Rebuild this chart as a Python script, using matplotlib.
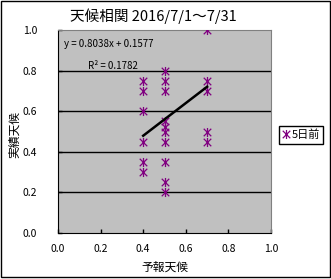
import numpy as np
import matplotlib.pyplot as plt
from matplotlib.path import Path
from matplotlib.patches import Rectangle

plt.rcParams['font.family'] = ['Noto Sans CJK JP', 'DejaVu Sans']

# forecast value -> observed values
x_vals = [0.4] * 6 + [0.5] * 10 + [0.7] * 5
y_vals = [0.75, 0.7, 0.6, 0.45, 0.35, 0.3,
          0.8, 0.75, 0.7, 0.55, 0.52, 0.5, 0.45, 0.35, 0.25, 0.2,
          1.0, 0.75, 0.7, 0.5, 0.45]

slope = 0.8038
intercept = 0.1577
r2 = 0.1782
trend_x = [0.4, 0.7]

ticks = [0.0, 0.2, 0.4, 0.6, 0.8, 1.0]
tick_labels = ['0.0', '0.2', '0.4', '0.6', '0.8', '1.0']

# excel style asterisk marker
star = Path([(-1, -1), (1, 1), (-1, 1), (1, -1), (0, -1.2), (0, 1.2)],
            [Path.MOVETO, Path.LINETO, Path.MOVETO, Path.LINETO,
             Path.MOVETO, Path.LINETO])

fig = plt.figure(figsize=(3.31, 2.79), dpi=100)
ax = fig.add_axes([58/331, 1-233/279, 213/331, 203/279])
ax.set_facecolor('#c0c0c0')

for g in [0.2, 0.4, 0.6, 0.8]:
    ax.axhline(g, color='black', lw=1, zorder=1)

ax.plot(x_vals, y_vals, ls='none', marker=star, ms=6.5, mew=0.9,
        color='#800080', zorder=3, label='5日前')
tx = np.array(trend_x)
ax.plot(tx, slope*tx + intercept, color='black', lw=1.8, zorder=4)

ax.text(0.03, 0.955, 'y = %.4fx + %.4f' % (slope, intercept), fontsize=7,
        transform=ax.transAxes, va='top')
ax.text(0.14, 0.845, 'R² = %.4f' % r2, fontsize=7,
        transform=ax.transAxes, va='top')

ax.set_xlim(0, 1)
ax.set_ylim(0, 1)
ax.set_xticks(ticks)
ax.set_xticklabels(tick_labels)
ax.set_yticks(ticks)
ax.set_yticklabels(tick_labels)
ax.tick_params(direction='in', length=3, labelsize=7.5, width=1)
ax.tick_params(axis='x', pad=8)
ax.tick_params(axis='y', pad=15)
for s in ['left', 'bottom']:
    ax.spines[s].set_color('black')
for s in ['top', 'right']:
    ax.spines[s].set_color('#808080')

fig.text(153/331, 1-16/279, '天候相関 2016/7/1～7/31', fontsize=10.5,
         ha='center', va='center')
fig.text(15/331, 1-134/279, '実績天候', fontsize=8.5, rotation=90,
         ha='center', va='center')
fig.text(165/331, 1-267/279, '予報天候', fontsize=8.5,
         ha='center', va='center')

leg = fig.legend(loc='center', bbox_to_anchor=(301/331, 1-135/279),
                 fontsize=8, fancybox=False, edgecolor='black',
                 framealpha=1, handlelength=0.6, handletextpad=0.2,
                 borderpad=0.3, borderaxespad=0)
leg.get_frame().set_linewidth(1)

fig.patches.append(Rectangle((1/331, 2/279), 329/331, 276/279, fill=False,
                             edgecolor='black', lw=1,
                             transform=fig.transFigure, figure=fig))

fig.savefig('out.png', dpi=100)
